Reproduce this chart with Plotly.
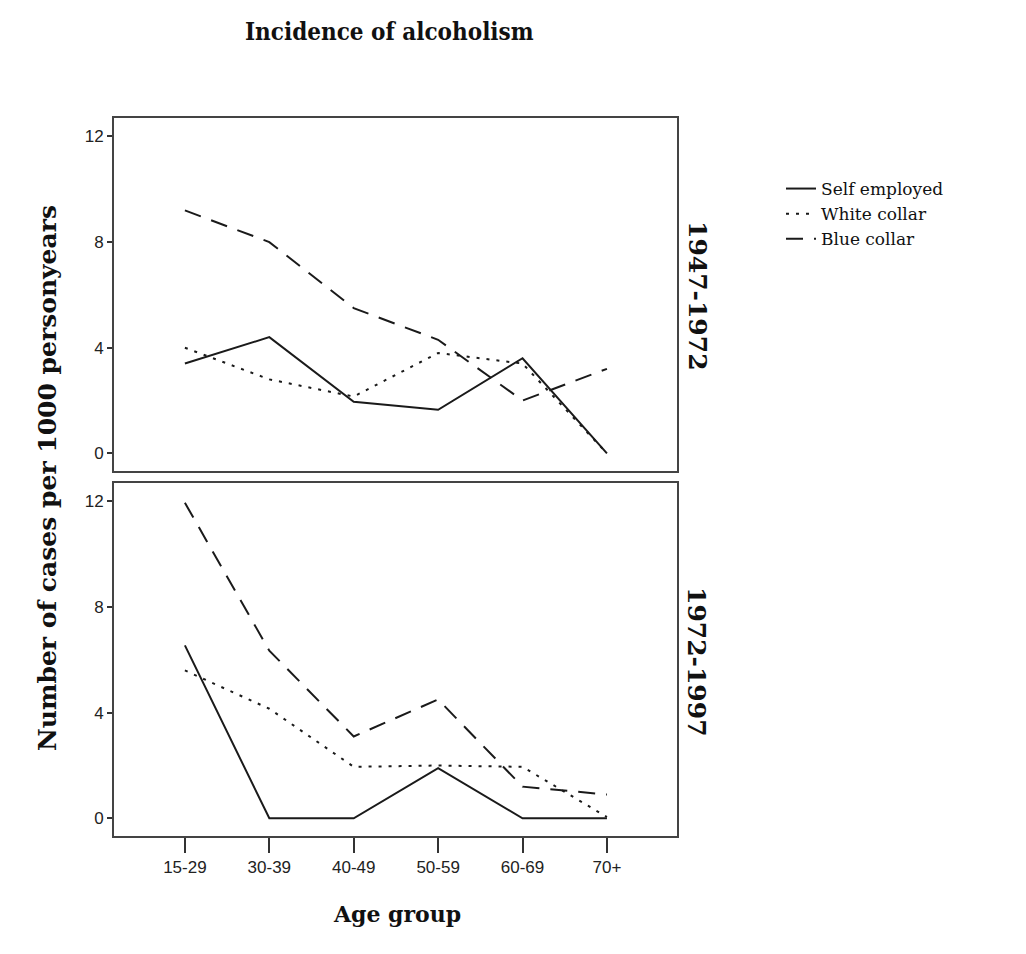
import plotly.graph_objects as go

age_groups = ["15-29", "30-39", "40-49", "50-59", "60-69", "70+"]
series_names = ["Self employed", "White collar", "Blue collar"]
periods = ["1947-1972", "1972-1997"]

# 1947-1972
self_employed_1947 = [3.4, 4.4, 1.95, 1.65, 3.6, 0.0]
white_collar_1947 = [4.0, 2.8, 2.15, 3.8, 3.4, 0.0]
blue_collar_1947 = [9.2, 8.0, 5.5, 4.3, 2.0, 3.2]

# 1972-1997
self_employed_1972 = [6.55, 0.0, 0.0, 1.9, 0.0, 0.0]
white_collar_1972 = [5.6, 4.15, 1.95, 2.0, 1.95, 0.05]
blue_collar_1972 = [11.95, 6.35, 3.1, 4.5, 1.2, 0.9]

y_ticks = [0, 4, 8, 12]

dashes = ["solid", "3px,7px", "17px,11px"]
line_color = "#1a1a1a"

W, H = 1026, 954
OFF = 8  # page body margin
left_px, right_px = 114, 677
top1, bot1 = 118, 471
top2, bot2 = 483, 836

def px_x(p):
    return (p - OFF) / W

def px_y(p):
    return 1 - (p - OFF) / H

fig = go.Figure()

data = [
    [self_employed_1947, white_collar_1947, blue_collar_1947],
    [self_employed_1972, white_collar_1972, blue_collar_1972],
]
for pi, panel in enumerate(data):
    for si, vals in enumerate(panel):
        fig.add_trace(go.Scatter(
            x=age_groups, y=vals, mode="lines",
            name=series_names[si],
            line=dict(color=line_color, width=2, dash=dashes[si]),
            showlegend=(pi == 0),
            xaxis="x" if pi == 0 else "x2",
            yaxis="y" if pi == 0 else "y2",
        ))

tick_font = dict(family="Liberation Sans Narrow, Liberation Sans, Arial", size=17, color="#222")
serif_bold = "DejaVu Serif"

common_y = dict(
    range=[-0.67, 12.7], tickvals=y_ticks, ticks="outside", ticklen=5,
    tickwidth=1.5, tickcolor="#333", showgrid=False, zeroline=False,
    showline=True, linecolor="#444", linewidth=2, mirror=True,
    tickfont=tick_font,
)
common_x = dict(
    type="category", categoryorder="array", categoryarray=age_groups,
    range=[-0.84, 5.83], showgrid=False, zeroline=False,
    showline=True, linecolor="#444", linewidth=2, mirror=True,
    domain=[px_x(left_px), px_x(right_px)],
)

fig.update_layout(
    width=W, height=H,
    margin=dict(l=0, r=0, t=0, b=0),
    paper_bgcolor="white", plot_bgcolor="white",
    xaxis=dict(common_x, anchor="y", showticklabels=False, ticks=""),
    yaxis=dict(common_y, anchor="x", domain=[px_y(bot1), px_y(top1)]),
    xaxis2=dict(common_x, anchor="y2", ticks="outside", ticklen=15, tickwidth=1.5,
                tickcolor="#333", tickfont=tick_font),
    yaxis2=dict(common_y, anchor="x2", domain=[px_y(bot2), px_y(top2)]),
    legend=dict(
        x=px_x(781), y=px_y(171), xanchor="left", yanchor="top",
        font=dict(family="DejaVu Serif", size=17, color="#111"),
        itemwidth=30, tracegroupgap=0, bgcolor="rgba(0,0,0,0)",
    ),
    showlegend=True,
)

annotations = [
    dict(text="<b>Incidence of alcoholism</b>", x=px_x(389), y=px_y(32),
         font=dict(family="DejaVu Serif Condensed, DejaVu Serif", size=24, color="#111")),
    dict(text="<b>Age group</b>", x=px_x(397), y=px_y(914),
         font=dict(family=serif_bold, size=22, color="#111")),
    dict(text="<b>Number of cases per 1000 personyears</b>", x=px_x(47), y=px_y(478),
         textangle=-90, font=dict(family=serif_bold, size=25, color="#111")),
    dict(text="<b>" + periods[0] + "</b>", x=px_x(697), y=px_y(296),
         textangle=90, font=dict(family=serif_bold, size=25, color="#111")),
    dict(text="<b>" + periods[1] + "</b>", x=px_x(697), y=px_y(662),
         textangle=90, font=dict(family=serif_bold, size=25, color="#111")),
]
for a in annotations:
    a.update(xref="paper", yref="paper", showarrow=False, xanchor="center", yanchor="middle")
fig.update_layout(annotations=annotations)

fig.write_html("out.html")
